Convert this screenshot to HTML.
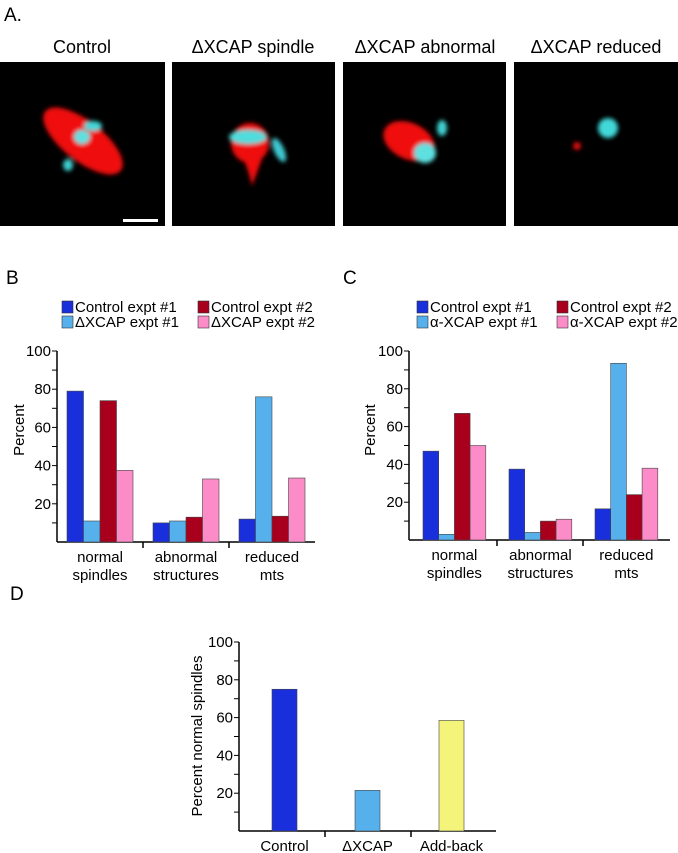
<!DOCTYPE html>
<html><head><meta charset="utf-8"><style>
body{margin:0;background:#fff;}
svg{display:block;font-family:"Liberation Sans",sans-serif;}
</style></head><body>
<svg id="fig" width="678" height="853" viewBox="0 0 678 853">
<defs>
<filter id="b2" x="-50%" y="-50%" width="200%" height="200%"><feGaussianBlur stdDeviation="2"/></filter>
</defs>
<text x="4" y="21" font-size="19">A.</text>
<g>
<text x="82" y="53" font-size="18" text-anchor="middle">Control</text>
<text x="253" y="53" font-size="18" text-anchor="middle">ΔXCAP spindle</text>
<text x="425" y="53" font-size="18" text-anchor="middle">ΔXCAP abnormal</text>
<text x="596" y="53" font-size="18" text-anchor="middle">ΔXCAP reduced</text>
<rect x="0" y="62" width="165" height="164" fill="#000"/>
<rect x="172" y="62" width="163" height="164" fill="#000"/>
<rect x="343" y="62" width="163" height="164" fill="#000"/>
<rect x="514" y="62" width="164" height="164" fill="#000"/>
<g filter="url(#b2)">
<ellipse cx="83" cy="141" rx="48" ry="20" fill="#f01010" transform="rotate(38 83 141)"/>
<ellipse cx="93" cy="126" rx="9" ry="5" fill="#40d8d8"/>
<ellipse cx="82" cy="137" rx="8" ry="7" fill="#5ee0e0"/>
<ellipse cx="68" cy="165" rx="5" ry="6" fill="#40d0d0"/>
<path d="M232,140 Q245,155 252,186 Q262,160 268,140 Z" fill="#f01010"/>
<ellipse cx="250" cy="143" rx="19" ry="20" fill="#f01010"/>
<ellipse cx="248" cy="137" rx="19" ry="7" fill="#50dcdc"/>
<ellipse cx="279" cy="150" rx="5" ry="13" fill="#40c8d0" transform="rotate(-25 279 150)"/>
<ellipse cx="409" cy="141" rx="27" ry="18" fill="#f01010" transform="rotate(25 409 141)"/>
<ellipse cx="425" cy="153" rx="11" ry="10" fill="#5ee0e0"/>
<ellipse cx="442" cy="128" rx="5" ry="8" fill="#40d0d0"/>
<ellipse cx="608" cy="128" rx="10" ry="10" fill="#40d8d8"/>
<ellipse cx="577" cy="146" rx="4" ry="4" fill="#e01010"/>
</g>
<rect x="123" y="219" width="35" height="3" fill="#fff"/>
</g>
<g id="chartB"></g>
<g id="chartC"></g>
<g id="chartD"></g>
</svg>
<script>
const categories = ["normal|spindles", "abnormal|structures", "reduced|mts"];
const seriesColors = ["#1a2fdc", "#56b0ec", "#a8001c", "#fc8cc8"];
const bLegend = ["Control expt #1", "ΔXCAP expt #1", "Control expt #2", "ΔXCAP expt #2"];
const bCtrl1 = [79, 10, 12];
const bXcap1 = [11, 11, 76];
const bCtrl2 = [74, 13, 13.5];
const bXcap2 = [37.5, 33, 33.5];
const cLegend = ["Control expt #1", "α-XCAP expt #1", "Control expt #2", "α-XCAP expt #2"];
const cCtrl1 = [47, 37.5, 16.5];
const cXcap1 = [3, 4, 93.5];
const cCtrl2 = [67, 10, 24];
const cXcap2 = [50, 11, 38];
const dCategories = ["Control", "ΔXCAP", "Add-back"];
const dValues = [75, 21.5, 58.5];
const dColors = ["#1a2fdc", "#56b0ec", "#f4f47a"];
const yTicks = [20, 40, 60, 80, 100];

const NS = "http://www.w3.org/2000/svg";
function mk(parent, tag, attrs, text) {
  const e = document.createElementNS(NS, tag);
  for (const k in attrs) e.setAttribute(k, attrs[k]);
  if (text !== undefined) e.textContent = text;
  parent.appendChild(e);
  return e;
}

function axes(g, o, ylabel) {
  const y = v => o.y0 - (o.y0 - o.y100) * v / 100;
  const yl = mk(g, "line", {x1:o.ax, y1:o.y100, x2:o.ax, y2:o.y0, stroke:"#000", "stroke-width":1.5});
  
  
  const xl = mk(g, "line", {x1:o.ax, y1:o.y0, x2:o.xend, y2:o.y0, stroke:"#000", "stroke-width":1.5});
  
  
  for (let v = 10; v <= 100; v += 10) {
    mk(g, "line", {x1:o.ax-5, y1:y(v), x2:o.ax, y2:y(v), stroke:"#000", "stroke-width":1});
  }
  yTicks.forEach(v => {
    const t = mk(g, "text", {x:o.ax-6, y:y(v)+5, "font-size":15, "text-anchor":"end"}, v);
    
    
  });
  o.dividers.forEach(dx => mk(g, "line", {x1:dx, y1:o.y0, x2:dx, y2:o.y0+6, stroke:"#000", "stroke-width":1.5}));
  const yt = mk(g, "text", {x:0, y:0, "font-size":15, "text-anchor":"middle", transform:`translate(${o.ylx},${o.yly}) rotate(-90)`}, ylabel);
  
  
  return y;
}

function groupChart(g, o, series, legend, letter) {
  const lt = mk(g, "text", {x:o.letterX, y:o.letterY, "font-size":19}, letter);
  
  
  legend.forEach((name, i) => {
    const lx = i < 2 ? o.legX1 : o.legX2, ly = o.legY + (i % 2) * 15;
    const sw = mk(g, "rect", {x:lx, y:ly, width:11, height:12, fill:seriesColors[i], stroke:"#333", "stroke-width":0.6});
    
    
    const tx = mk(g, "text", {x:lx+13, y:ly+11, "font-size":15}, name);
    
    
  });
  const y = axes(g, o, "Percent");
  categories.forEach((c, ci) => {
    series.forEach((s, si) => {
      const x = o.groupX[ci] + si * o.bw;
      const r = mk(g, "rect", {x:x, y:y(s[ci]), width:o.bw, height:o.y0 - y(s[ci]), fill:seriesColors[si], stroke:"#444", "stroke-width":0.6});
      
      
    });
    const cx = o.groupX[ci] + 2 * o.bw;
    c.split("|").forEach((line, li) => {
      const t = mk(g, "text", {x:cx, y:o.y0 + 20 + li * 18, "font-size":15, "text-anchor":"middle"}, line);
      
      
    });
  });
}

groupChart(document.getElementById("chartB"), {
  ax:57, xend:315, y0:542, y100:351, dividers:[143,229], groupX:[67,153,239], bw:16.5,
  ylx:24, yly:430, letterX:6, letterY:284, legX1:62, legX2:198, legY:301
}, [bCtrl1, bXcap1, bCtrl2, bXcap2], bLegend, "B");

groupChart(document.getElementById("chartC"), {
  ax:409, xend:670, y0:540, y100:351, dividers:[497,583], groupX:[423,509,595], bw:15.7,
  ylx:375, yly:430, letterX:343, letterY:284, legX1:417, legX2:557, legY:301
}, [cCtrl1, cXcap1, cCtrl2, cXcap2], cLegend, "C");

(function(){
  const g = document.getElementById("chartD");
  const o = {ax:239, xend:496, y0:831, y100:642, dividers:[325,411], ylx:202, yly:736};
  const lt = mk(g, "text", {x:10, y:600, "font-size":19}, "D");
  
  
  const y = axes(g, o, "Percent normal spindles");
  const bx = [272, 355, 439];
  dCategories.forEach((c, i) => {
    const r = mk(g, "rect", {x:bx[i], y:y(dValues[i]), width:25, height:o.y0 - y(dValues[i]), fill:dColors[i], stroke:"#444", "stroke-width":0.6});
    
    
    const t = mk(g, "text", {x:bx[i]+12.5, y:851, "font-size":15, "text-anchor":"middle"}, c);
    
    
  });
})();
</script>
</body></html>
